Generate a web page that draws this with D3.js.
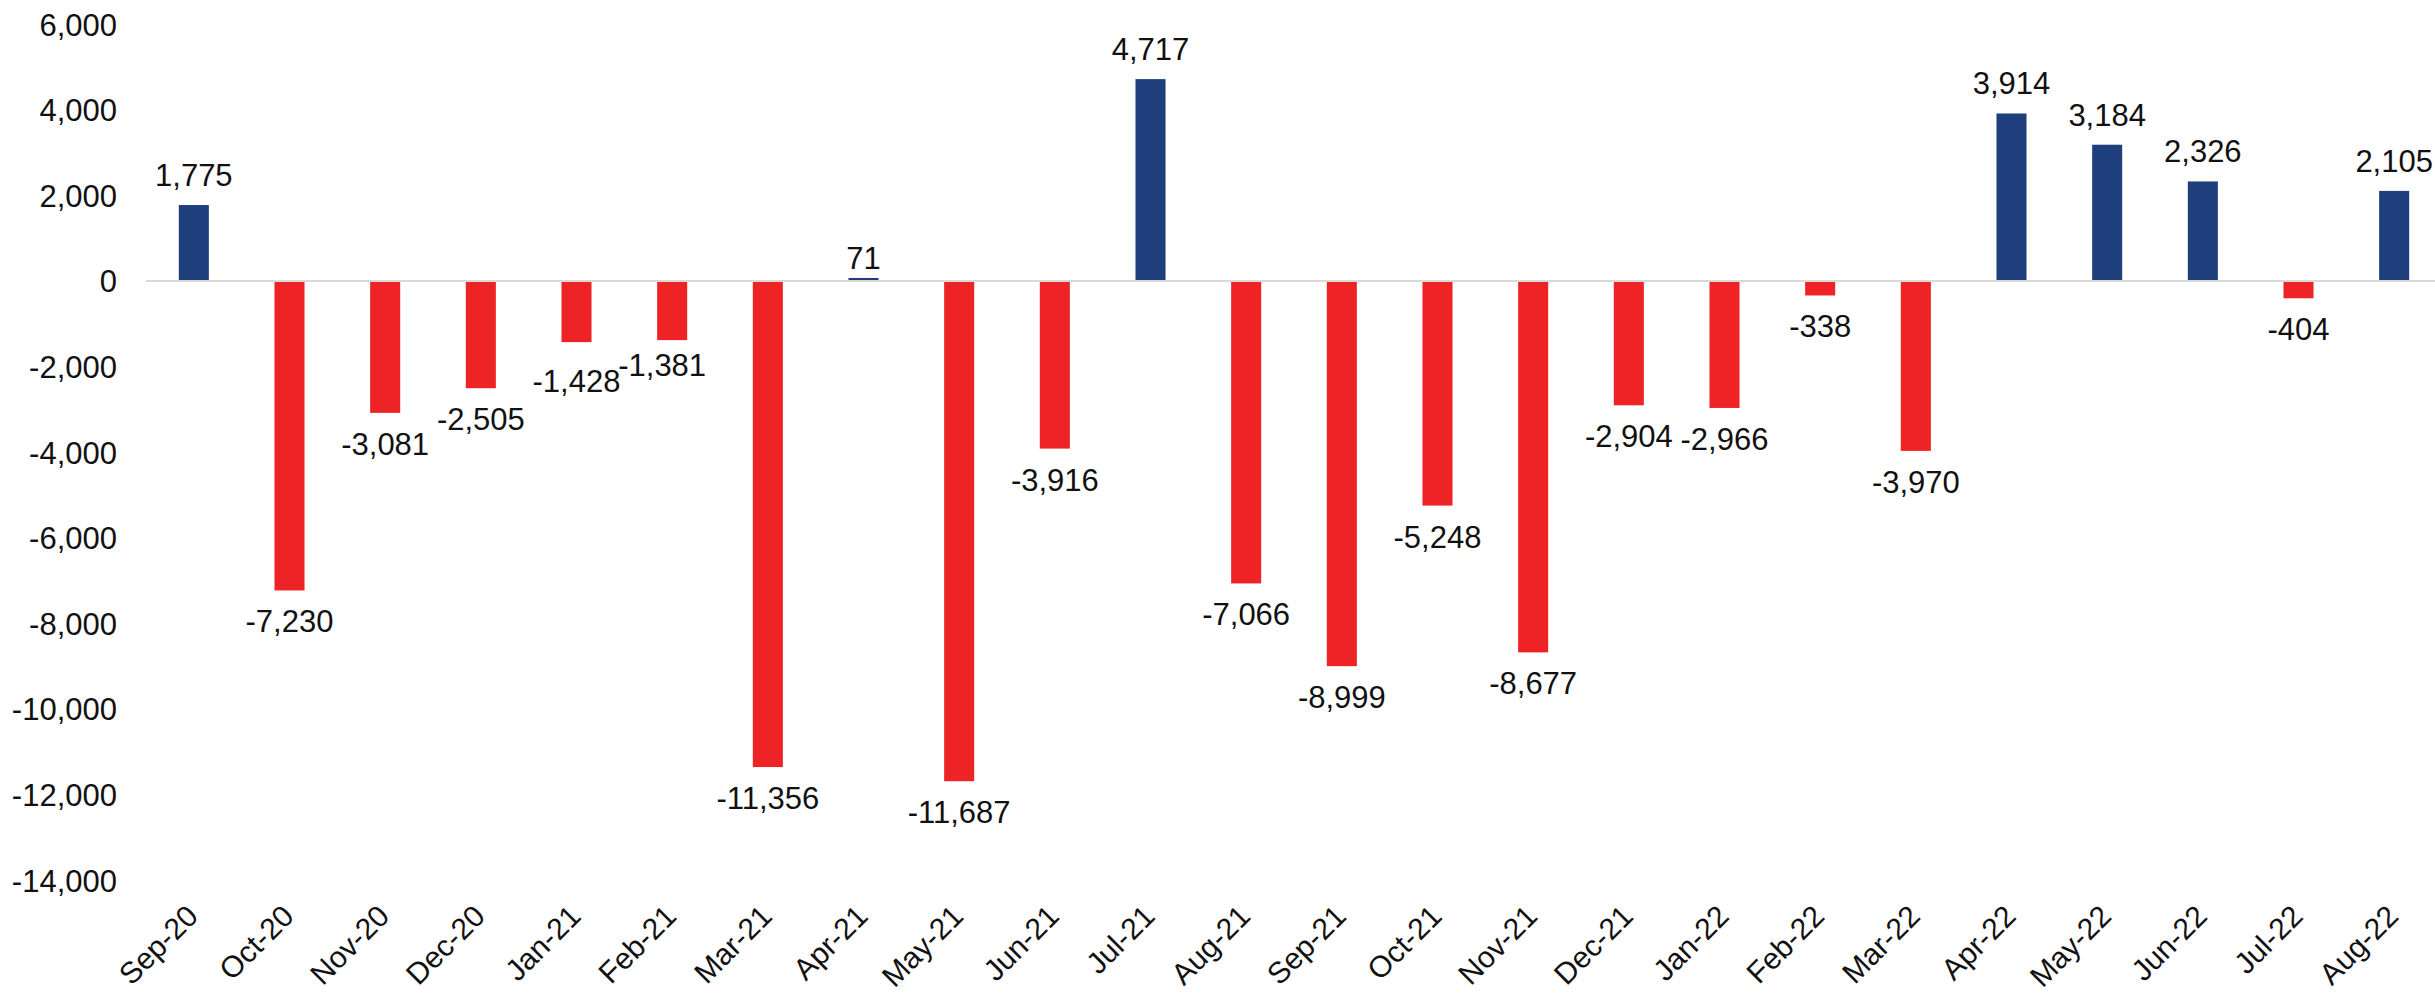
<!DOCTYPE html>
<html>
<head>
<meta charset="utf-8">
<script src="https://cdn.jsdelivr.net/npm/d3@7"></script>
<style>
  html, body { margin: 0; padding: 0; background: #fff; }
  svg { display: block; font-family: "Liberation Sans", Arial, sans-serif; }
</style>
</head>
<body>
<svg id="chart" width="2435" height="996"></svg>
<script>
// Monthly net values, Sep-20 to Aug-22
const months = ["Sep-20","Oct-20","Nov-20","Dec-20","Jan-21","Feb-21","Mar-21","Apr-21",
  "May-21","Jun-21","Jul-21","Aug-21","Sep-21","Oct-21","Nov-21","Dec-21",
  "Jan-22","Feb-22","Mar-22","Apr-22","May-22","Jun-22","Jul-22","Aug-22"];
const values = [1775, -7230, -3081, -2505, -1428, -1381, -11356, 71,
  -11687, -3916, 4717, -7066, -8999, -5248, -8677, -2904,
  -2966, -338, -3970, 3914, 3184, 2326, -404, 2105];
const yTicks = [6000, 4000, 2000, 0, -2000, -4000, -6000, -8000, -10000, -12000, -14000];

const POS = "#1f3f7c", NEG = "#ee2326";

// small offsets so crowded value labels don't collide
const labelNudge = { "Jan-21": [0, 8], "Feb-21": [-10, -6], "Apr-21": [0, 10] };

const svg = d3.select("#chart");
// thousands separator with a plain hyphen as minus sign
const fmt = d3.formatLocale({ decimal: ".", thousands: ",", grouping: [3], currency: ["", ""], minus: "-" }).format(",");

const x = d3.scaleBand().domain(months).range([146, 2442])
  .paddingInner(0.686).paddingOuter(0.343);
const y = d3.scaleLinear().domain([-14000, 6000]).range([880.2, 24.2]);

// Y axis labels (no line, no tick marks)
const yAxis = d3.axisLeft(y).tickValues(yTicks).tickFormat(fmt).tickSize(0).tickPadding(0);
const gy = svg.append("g").attr("transform", "translate(117,0)").call(yAxis);
gy.select(".domain").remove();
gy.selectAll("text").attr("font-size", 31).attr("fill", "#111")
  .attr("font-family", "Liberation Sans, Arial, sans-serif").attr("dy", "0.35em");

// bars
svg.append("g").selectAll("rect").data(months).join("rect")
  .attr("x", (d) => x(d))
  .attr("width", x.bandwidth())
  .attr("y", (d, i) => Math.min(y(values[i]), y(0)))
  .attr("height", (d, i) => Math.max(Math.abs(y(values[i]) - y(0)), 1))
  .attr("fill", (d, i) => values[i] >= 0 ? POS : NEG);

// zero line
svg.append("line")
  .attr("x1", 146).attr("x2", 2435)
  .attr("y1", y(0)).attr("y2", y(0))
  .attr("stroke", "#d9d9d9").attr("stroke-width", 2);

// value labels
svg.append("g").selectAll("text").data(months).join("text")
  .attr("x", (d) => x(d) + x.bandwidth() / 2 + (labelNudge[d] ? labelNudge[d][0] : 0))
  .attr("y", (d, i) => {
    const v = values[i];
    const base = v >= 0 ? y(v) - 19 : y(v) + 42;
    return base + (labelNudge[d] ? labelNudge[d][1] : 0);
  })
  .attr("text-anchor", "middle")
  .attr("font-size", 31)
  .attr("fill", "#111")
  .text((d, i) => fmt(values[i]));

// X axis labels, rotated
const xAxis = d3.axisBottom(x).tickSize(0).tickPadding(0);
const gx = svg.append("g").attr("transform", "translate(0,918)").call(xAxis);
gx.select(".domain").remove();
gx.selectAll("text")
  .attr("font-size", 30)
  .attr("fill", "#111")
  .attr("font-family", "Liberation Sans, Arial, sans-serif")
  .attr("text-anchor", "end")
  .attr("y", 0).attr("dy", 0)
  .attr("transform", "translate(6,0) rotate(-45)");
</script>
</body>
</html>
